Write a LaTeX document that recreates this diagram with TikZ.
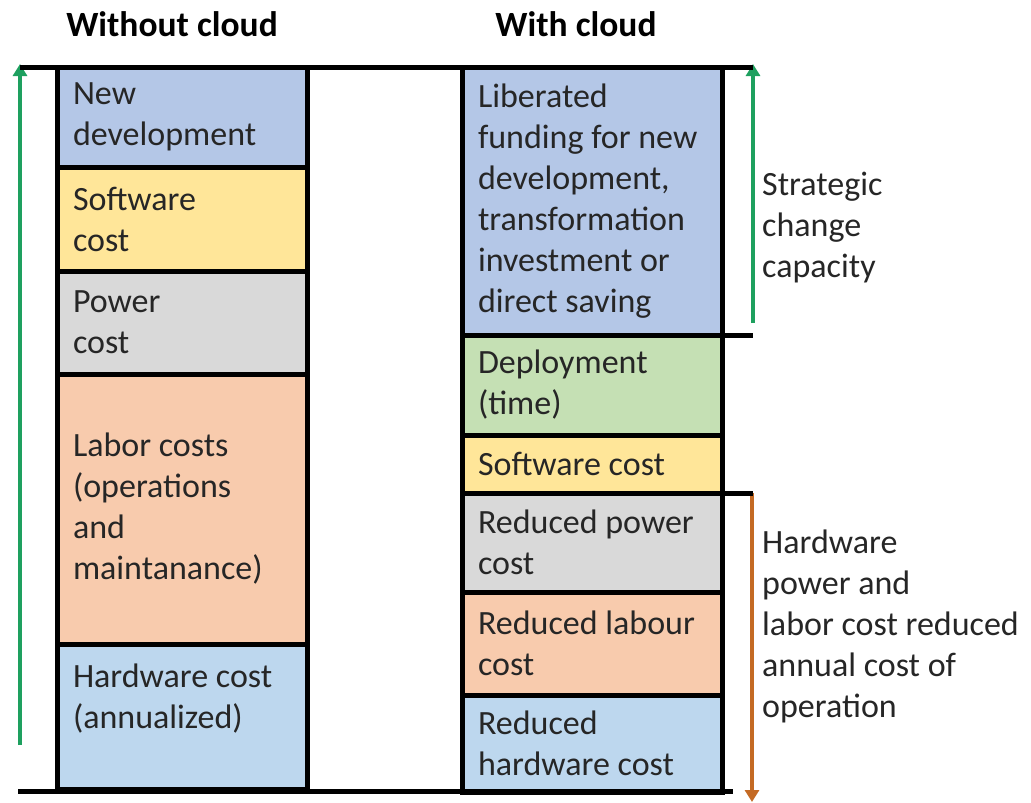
\documentclass[tikz,border=0pt]{standalone}
\usepackage{fontspec}
\setmainfont{Carlito}
\usetikzlibrary{positioning,arrows.meta}
\definecolor{devblue}{RGB}{180,199,231}
\definecolor{swyellow}{RGB}{255,230,153}
\definecolor{pwgray}{RGB}{217,217,217}
\definecolor{labpeach}{RGB}{248,203,173}
\definecolor{hwblue}{RGB}{189,215,238}
\definecolor{depgreen}{RGB}{197,224,180}
\definecolor{stratgreen}{RGB}{30,160,95}
\definecolor{costorange}{RGB}{196,106,36}
\begin{document}
\begin{tikzpicture}[x=1pt, y=-1pt, font=\fontsize{34}{41}\selectfont, line join=miter,
	costbox/.style={draw=black, line width=5pt, outer sep=0pt, inner xsep=16pt, inner ysep=4pt, align=flush left, text=black!85},
	leftbox/.style={costbox, text width=218pt, minimum width=250pt},
	rightbox/.style={costbox, text width=228pt, minimum width=260pt},
	edgeline/.style={draw=black, line width=5pt},
	stratarrow/.style={draw=stratgreen, line width=4pt, -{Triangle[length=12pt,width=14pt]}},
	costarrow/.style={draw=costorange, line width=4pt, -{Triangle[length=12pt,width=14pt]}},
	sidelabel/.style={anchor=north west, inner sep=0pt, align=left, text=black!85},
	coltitle/.style={anchor=base, font=\fontsize{35.5}{42}\selectfont\bfseries}]
	\useasboundingbox (0,0) rectangle (1031,803);
	% titles
	\node[coltitle] (notitle) at (172,36) {Without cloud};
	\node[coltitle] (cloudtitle) at (576,36) {With cloud};
	% arrows
	\coordinate (topleft) at (20,67);
	\coordinate (topright) at (753,67);
	\coordinate (leftfoot) at (20,745);
	\coordinate (stratfoot) at (753,323);
	\coordinate (stratend) at (753,335);
	\coordinate (costtop) at (753,493);
	\coordinate (costfoot) at (752,802);
	\coordinate (botleft) at (18,791);
	\coordinate (botright) at (733,791);
	\draw[stratarrow] (leftfoot) -- ([yshift=3pt]topleft);
	\draw[stratarrow] (stratfoot) -- ([yshift=3pt]topright);
	\draw[costarrow] ([xshift=-1pt]costtop) -- (costfoot);
	% without cloud
	\node[leftbox, fill=devblue, minimum height=100pt, anchor=north west] (newdev) at (57,67) {New\\development};
	\node[leftbox, fill=swyellow, minimum height=104pt, below=0pt of newdev] (swcost) {Software\\cost};
	\node[leftbox, fill=pwgray, minimum height=103pt, below=0pt of swcost] (pwcost) {Power\\cost};
	\node[leftbox, fill=labpeach, minimum height=270pt, below=0pt of pwcost] (labcost) {Labor costs\\(operations\\and\\maintanance)};
	\node[leftbox, fill=hwblue, minimum height=145pt, text depth=82pt, below=0pt of labcost] (hwcost) {Hardware cost\\(annualized)};
	% with cloud
	\node[rightbox, fill=devblue, minimum height=268pt, anchor=north west] (libfund) at (462,67) {Liberated\\funding for new\\development,\\transformation\\investment or\\direct saving};
	\node[rightbox, fill=depgreen, minimum height=100pt, below=0pt of libfund] (deploy) {Deployment\\(time)};
	\node[rightbox, fill=swyellow, minimum height=58pt, below=0pt of deploy] (swcloud) {Software cost};
	\node[rightbox, fill=pwgray, minimum height=99pt, below=0pt of swcloud] (pwred) {Reduced power\\cost};
	\node[rightbox, fill=labpeach, minimum height=103pt, below=0pt of pwred] (labred) {Reduced labour\\cost};
	\node[rightbox, fill=hwblue, minimum height=97pt, below=0pt of labred] (hwred) {Reduced\\hardware cost};
	% rules
	\draw[edgeline] (topleft) -- (topright);
	\draw[edgeline] (botleft) -- (botright);
	\draw[edgeline] (libfund.south east) -- (stratend);
	\draw[edgeline] (swcloud.south east) -- (costtop);
	% labels
	\node[sidelabel] (stratlabel) at (762,172) {Strategic\\change\\capacity};
	\node[sidelabel] (costlabel) at (762,530) {Hardware\\power and\\labor cost reduced\\annual cost of\\operation};
\end{tikzpicture}
\end{document}
